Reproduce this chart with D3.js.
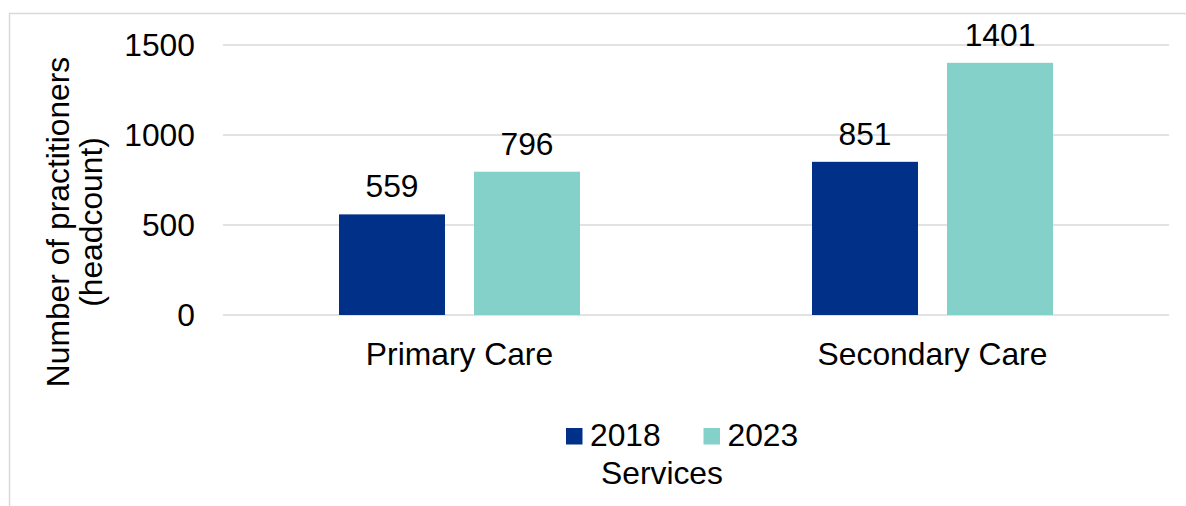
<!DOCTYPE html>
<html>
<head>
<meta charset="utf-8">
<script src="https://cdn.jsdelivr.net/npm/d3@7"></script>
<style>
  html, body { margin: 0; padding: 0; background: #fff; }
  svg { display: block; font-family: "Liberation Sans", Arial, sans-serif; }
</style>
</head>
<body>
<svg id="chart" width="1186" height="506"></svg>
<script>
// Practitioner headcount by service, 2018 vs 2023
const categories = ["Primary Care", "Secondary Care"];
const seriesNames = ["2018", "2023"];
const values2018 = [559, 851];
const values2023 = [796, 1401];
const yTicks = [0, 500, 1000, 1500];
const colors = ["#003087", "#84D1CA"];

const svg = d3.select("#chart");
const W = 1186, H = 506;
const plot = { left: 223, right: 1169, top: 45, bottom: 315 };
const fontSize = 31.8;

// outer frame (extends past the right/bottom edges)
svg.append("rect")
  .attr("x", 9.5).attr("y", 13.5)
  .attr("width", W + 20).attr("height", H + 20)
  .attr("fill", "none").attr("stroke", "#d9d9d9").attr("stroke-width", 1.5);

const y = d3.scaleLinear().domain([0, 1500]).range([plot.bottom, plot.top]);

const x0 = d3.scaleBand().domain(categories)
  .range([plot.left, plot.right])
  .paddingInner(0.4905).paddingOuter(0.24525);

const x1 = d3.scaleBand().domain(seriesNames)
  .range([0, x0.bandwidth()])
  .paddingInner(0.215).paddingOuter(0);

// gridlines
svg.append("g").selectAll("line").data(yTicks).join("line")
  .attr("x1", plot.left).attr("x2", plot.right)
  .attr("y1", d => y(d)).attr("y2", d => y(d))
  .attr("stroke", "#d9d9d9").attr("stroke-width", 1.3);

// y tick labels
const yAxis = d3.axisLeft(y).tickValues(yTicks).tickSize(0).tickPadding(28).tickFormat(d3.format("d"));
const gy = svg.append("g").attr("transform", `translate(${plot.left},0)`).call(yAxis);
gy.select(".domain").remove();
gy.selectAll("text")
  .attr("font-size", fontSize).attr("fill", "#000")
  .attr("font-family", "Liberation Sans, Arial, sans-serif");

// bars
const rows = categories.map((c, i) => ({ cat: c, vals: [values2018[i], values2023[i]] }));
const groups = svg.append("g").selectAll("g").data(rows).join("g")
  .attr("transform", d => `translate(${x0(d.cat)},0)`);

groups.selectAll("rect")
  .data(d => d.vals.map((v, j) => ({ key: seriesNames[j], v, j })))
  .join("rect")
  .attr("x", d => x1(d.key))
  .attr("y", d => y(d.v))
  .attr("width", x1.bandwidth())
  .attr("height", d => y(0) - y(d.v))
  .attr("fill", d => colors[d.j]);

// value labels
groups.selectAll("text.val")
  .data(d => d.vals.map((v, j) => ({ key: seriesNames[j], v, j })))
  .join("text")
  .attr("class", "val")
  .attr("x", d => x1(d.key) + x1.bandwidth() / 2)
  .attr("y", d => y(d.v) - 17)
  .attr("text-anchor", "middle")
  .attr("font-size", fontSize)
  .attr("fill", "#000")
  .text(d => d.v);

// category labels
const xAxis = d3.axisBottom(x0).tickSize(0).tickPadding(0);
const gx = svg.append("g").attr("transform", `translate(0,${plot.bottom})`).call(xAxis);
gx.select(".domain").remove();
gx.selectAll("text")
  .attr("dy", null).attr("y", 50)
  .attr("font-size", fontSize).attr("fill", "#000")
  .attr("font-family", "Liberation Sans, Arial, sans-serif");

// y-axis title (two lines)
const yt = svg.append("text")
  .attr("transform", "translate(69,222) rotate(-90)")
  .attr("text-anchor", "middle")
  .attr("font-size", fontSize).attr("fill", "#000");
yt.append("tspan").attr("x", 0).attr("y", 0).text("Number of practitioners");
yt.append("tspan").attr("x", 0).attr("y", 33).text("(headcount)");

// legend
const legendItems = [
  { name: seriesNames[0], color: colors[0], x: 566 },
  { name: seriesNames[1], color: colors[1], x: 703.5 }
];
const lg = svg.append("g").selectAll("g").data(legendItems).join("g")
  .attr("transform", d => `translate(${d.x},428)`);
lg.append("rect").attr("width", 16.5).attr("height", 16.5).attr("fill", d => d.color);
lg.append("text").attr("x", 24).attr("y", 18)
  .attr("font-size", fontSize).attr("fill", "#000").text(d => d.name);

// x-axis title
svg.append("text")
  .attr("x", 662).attr("y", 484)
  .attr("text-anchor", "middle")
  .attr("font-size", fontSize).attr("fill", "#000")
  .text("Services");
</script>
</body>
</html>
